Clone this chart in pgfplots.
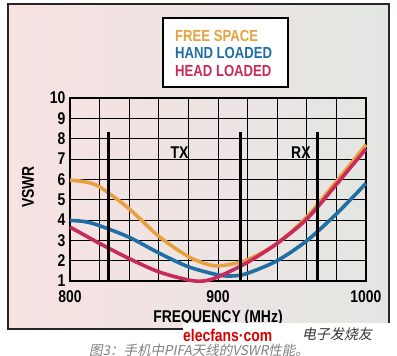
\documentclass[border=0pt]{standalone}
\usepackage{fontspec}
\setmainfont[FakeStretch=0.82]{Liberation Sans}
\newfontfamily\cjk[FakeSlant=0.2]{Noto Sans CJK SC}
\usepackage{pgfplots}
\pgfplotsset{compat=1.18}
\definecolor{cfree}{HTML}{E8A040}
\definecolor{chand}{HTML}{1F6EA6}
\definecolor{chead}{HTML}{C82A5C}
\definecolor{bgL}{HTML}{F8E2E2}
\definecolor{bgR}{HTML}{E2E6E2}
\begin{document}
\begin{tikzpicture}[x=1pt,y=1pt]
\path[use as bounding box] (0,0) rectangle (397,356);
\shade[left color=bgL, right color=bgR] (8,27) rectangle (389,352);
\draw[black!85, line width=1.5pt] (8,27) rectangle (389,352);
% legend box
\draw[black, line width=1.5pt, fill=white] (163,269) rectangle (288,338);
\node[anchor=west, inner sep=0pt, text=cfree, font=\bfseries\fontsize{16}{16}\selectfont] at (175,320.3) {FREE SPACE};
\node[anchor=west, inner sep=0pt, text=chand, font=\bfseries\fontsize{16}{16}\selectfont] at (175,302.7) {HAND LOADED};
\node[anchor=west, inner sep=0pt, text=chead, font=\bfseries\fontsize{16}{16}\selectfont] at (175,285) {HEAD LOADED};
\node[rotate=90, font=\bfseries\fontsize{17}{17}\selectfont] at (28,169) {VSWR};
\begin{axis}[
  at={(70pt,75pt)}, anchor=south west,
  scale only axis, width=296pt, height=183pt,
  xmin=800, xmax=1000, ymin=1, ymax=10,
  xtick={800,820,...,1000},
  xticklabels={800,,,,,900,,,,,1000},
  ytick={1,2,...,10},
  grid=major, major grid style={black, line width=0.9pt},
  axis line style={black, line width=1.6pt},
  major tick length=0pt,
  /pgf/number format/assume math mode=true,
  tick label style={font=\bfseries\fontsize{17}{17}\selectfont, inner sep=1pt},
  xticklabel style={yshift=-8pt},
  yticklabel style={xshift=-3.5pt},
  xlabel={FREQUENCY (MHz)},
  xlabel style={font=\bfseries\fontsize{17}{17}\selectfont, at={(axis description cs:0.5,0)}, anchor=center, yshift=-37pt},
  clip=false,
]
\addplot[cfree, line width=3.6pt, smooth] coordinates {(800,5.96)(810,5.88)(820,5.63)(840,4.55)(860,3.2)(880,2.2)(895,1.78)(905,1.78)(920,2.05)(940,2.85)(960,4.15)(980,5.9)(1000,7.7)};
\addplot[chand, line width=3.6pt, smooth] coordinates {(800,3.98)(810,3.92)(820,3.72)(840,3.15)(860,2.38)(880,1.7)(900,1.3)(910,1.25)(920,1.38)(940,2.0)(960,2.98)(980,4.3)(1000,5.8)};
\addplot[chead, line width=3.6pt, smooth] coordinates {(800,3.65)(820,2.85)(840,2.1)(860,1.45)(880,1.05)(890,1.0)(900,1.2)(920,1.92)(940,2.85)(960,4.05)(980,5.75)(1000,7.5)};
\addplot[black, line width=3pt] coordinates {(826,1)(826,8.35)};
\addplot[black, line width=3pt] coordinates {(915.5,1)(915.5,8.35)};
\addplot[black, line width=3pt] coordinates {(967,1)(967,8.35)};
\node[font=\bfseries\fontsize{17}{17}\selectfont] at (axis cs:874,7.3) {TX};
\node[font=\bfseries\fontsize{17}{17}\selectfont] at (axis cs:956,7.3) {RX};
\end{axis}
% watermark and caption
\fill[white] (183,11) rectangle (390,33);
\node[anchor=center, text=black!50, font=\cjk\fontsize{13.5}{14}\selectfont] at (199,6) {图3：手机中PIFA天线的VSWR性能。};
\node[anchor=west, inner sep=0pt, text=red!85!black, font=\bfseries\fontsize{17}{17}\selectfont] at (183,21) {elecfans·com};
\node[anchor=west, inner sep=0pt, text=black!80, font=\cjk\fontsize{14}{14}\selectfont] at (302,22) {电子发烧友};
\end{tikzpicture}
\end{document}
